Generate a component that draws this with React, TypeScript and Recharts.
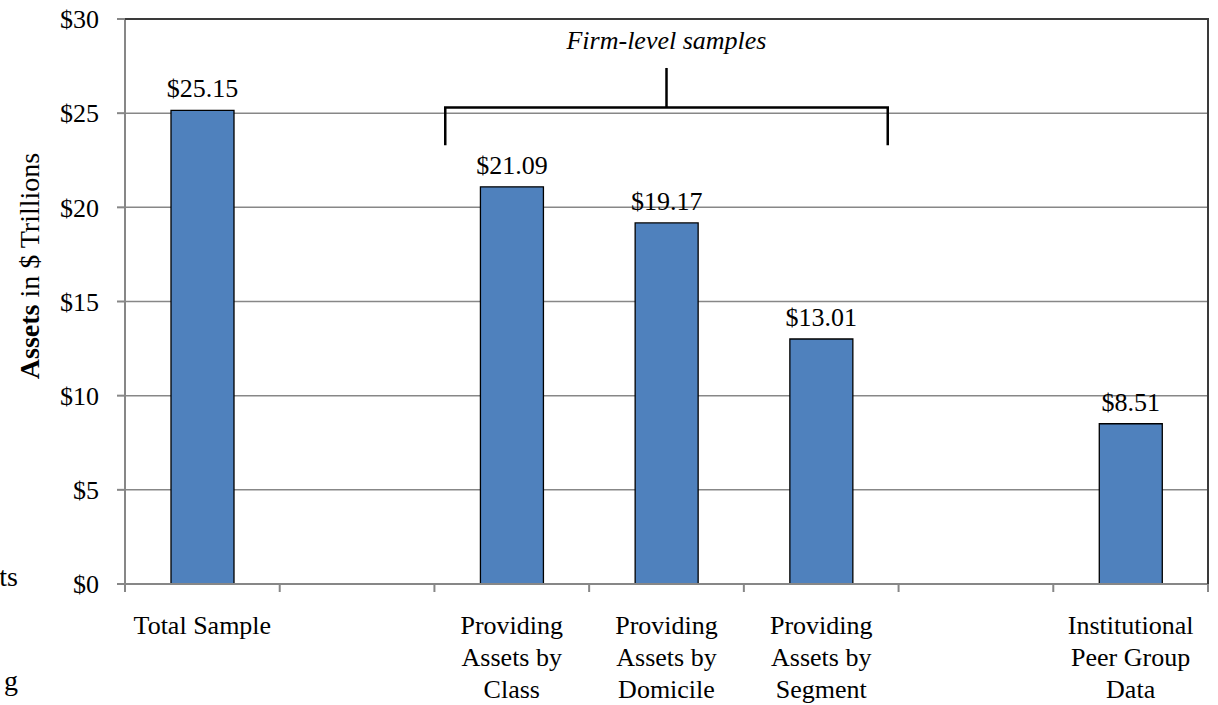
import React from 'react';
import { BarChart, Bar, XAxis, YAxis, CartesianGrid, LabelList } from 'recharts';

// Category slots (two empty spacer slots separate the groups)
const categories = [
  'Total Sample',
  '',
  'Providing Assets by Class',
  'Providing Assets by Domicile',
  'Providing Assets by Segment',
  '',
  'Institutional Peer Group Data',
];
const categoryLines: string[][] = [
  ['Total Sample'],
  [],
  ['Providing', 'Assets by', 'Class'],
  ['Providing', 'Assets by', 'Domicile'],
  ['Providing', 'Assets by', 'Segment'],
  [],
  ['Institutional', 'Peer Group', 'Data'],
];
// Assets in $ trillions
const assets: (number | null)[] = [25.15, null, 21.09, 19.17, 13.01, null, 8.51];
const yTicks = [0, 5, 10, 15, 20, 25, 30];
const bracketTitle = 'Firm-level samples';
const bracketFirst = 2;
const bracketLast = 4;

const data = categories.map((name, i) => ({
  key: `c${i}`,
  name,
  assets: assets[i],
}));

const W = 1218;
const H = 705;
const M = { top: 19, right: 10, bottom: 0, left: 0 };
const Y_AXIS_W = 125;
const X_AXIS_H = 121;
const PLOT_L = M.left + Y_AXIS_W;
const PLOT_R = W - M.right;
const PLOT_T = M.top;
const PLOT_B = H - M.bottom - X_AXIS_H;
const BAND = (PLOT_R - PLOT_L) / categories.length;
const Y_MAX = 30;
const yPos = (v: number) => PLOT_B - (v / Y_MAX) * (PLOT_B - PLOT_T);

const FONT = '"Liberation Serif", "Times New Roman", serif';
const AXIS_GRAY = '#878787';

const CategoryTick = (props: any) => {
  const { x, payload, index } = props;
  const i = typeof payload?.index === 'number' ? payload.index : index;
  const lines = categoryLines[i] || [];
  const left = x - BAND / 2;
  return (
    <g>
      <line x1={left} x2={left} y1={PLOT_B} y2={PLOT_B + 8} stroke={AXIS_GRAY} strokeWidth={2} />
      {i === categories.length - 1 && (
        <line x1={x + BAND / 2} x2={x + BAND / 2} y1={PLOT_B} y2={PLOT_B + 8} stroke={AXIS_GRAY} strokeWidth={2} />
      )}
      {lines.map((ln, k) => (
        <text
          key={k}
          x={x}
          y={PLOT_B + 50 + k * 32}
          textAnchor="middle"
          fontFamily={FONT}
          fontSize={26}
          fill="#000"
        >
          {ln}
        </text>
      ))}
    </g>
  );
};

export default function App() {
  const bx1 = PLOT_L + BAND * (bracketFirst + 0.07);
  const bx2 = PLOT_L + BAND * (bracketLast + 1 - 0.07);
  const bmid = (bx1 + bx2) / 2;
  const barY = yPos(25.3);
  const legY = yPos(23.3);
  const stemY = yPos(27.4);
  return (
    <div style={{ position: 'absolute', left: 0, top: 0, width: W, height: H, background: '#fff' }}>
      <BarChart width={W} height={H} data={data} margin={M}>
        <CartesianGrid vertical={false} stroke={AXIS_GRAY} strokeWidth={1.5} />
        <XAxis
          dataKey="key"
          interval={0}
          height={X_AXIS_H}
          tickLine={false}
          axisLine={{ stroke: AXIS_GRAY, strokeWidth: 2 }}
          tick={<CategoryTick />}
        />
        <YAxis
          domain={[0, Y_MAX]}
          ticks={yTicks}
          width={Y_AXIS_W}
          tickSize={8}
          tickMargin={18}
          tickFormatter={(v: number) => `$${v}`}
          axisLine={{ stroke: AXIS_GRAY, strokeWidth: 2 }}
          tickLine={{ stroke: AXIS_GRAY, strokeWidth: 2 }}
          tick={{ fontFamily: FONT, fontSize: 26, fill: '#000' }}
        />
        <Bar dataKey="assets" fill="#4F81BD" stroke="#000" strokeWidth={1.3} barSize={63} isAnimationActive={false}>
          <LabelList
            dataKey="assets"
            position="top"
            offset={13}
            fontFamily={FONT}
            fontSize={26}
            fill="#000"
            formatter={(v: any) => (v == null ? '' : `$${Number(v).toFixed(2)}`)}
          />
        </Bar>
      </BarChart>
      <svg
        width={W}
        height={H}
        style={{ position: 'absolute', left: 0, top: 0, pointerEvents: 'none' }}
      >
        {/* plot frame: top and right edges */}
        <polyline
          points={`${PLOT_L},${PLOT_T} ${PLOT_R},${PLOT_T} ${PLOT_R},${PLOT_B}`}
          fill="none"
          stroke="#3a3a3a"
          strokeWidth={2}
        />
        {/* bracket over the firm-level samples */}
        <polyline
          points={`${bx1},${legY} ${bx1},${barY} ${bx2},${barY} ${bx2},${legY}`}
          fill="none"
          stroke="#000"
          strokeWidth={2.5}
        />
        <line x1={bmid} x2={bmid} y1={barY} y2={stemY} stroke="#000" strokeWidth={2.5} />
        <text
          x={bmid}
          y={yPos(28.4)}
          textAnchor="middle"
          fontFamily={FONT}
          fontStyle="italic"
          fontSize={26}
          fill="#000"
        >
          {bracketTitle}
        </text>
        {/* y-axis title */}
        <text
          transform={`translate(39, 266) rotate(-90)`}
          textAnchor="middle"
          fontFamily={FONT}
          fontSize={28}
          fill="#000"
        >
          <tspan fontWeight="bold">Assets</tspan>
          <tspan> in $ Trillions</tspan>
        </text>
        {/* text fragments at the left edge */}
        <text x={18} y={586} textAnchor="end" fontFamily={FONT} fontSize={28} fill="#000">ts</text>
        <text x={18} y={690} textAnchor="end" fontFamily={FONT} fontSize={28} fill="#000">g</text>
      </svg>
    </div>
  );
}
